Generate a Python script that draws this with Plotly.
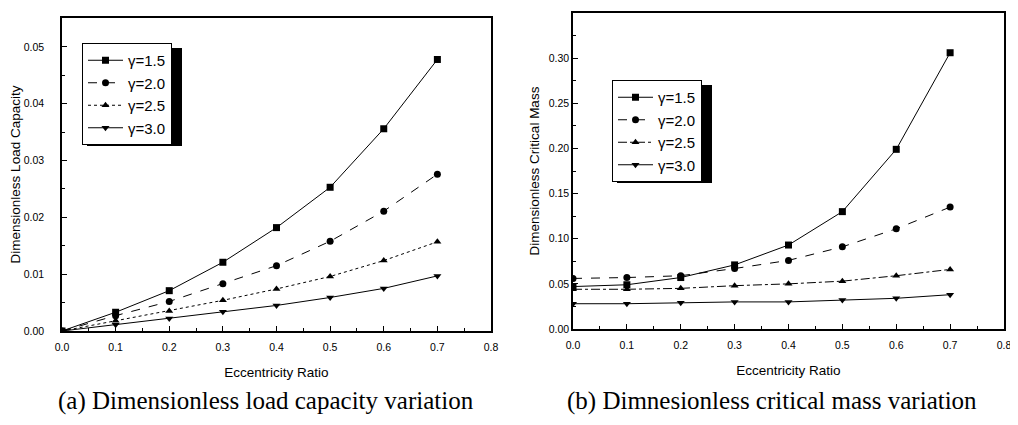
import plotly.graph_objects as go

ecc = [0.0, 0.1, 0.2, 0.3, 0.4, 0.5, 0.6, 0.7]
labels = ["γ=1.5", "γ=2.0", "γ=2.5", "γ=3.0"]

load_g15 = [0.0, 0.0033, 0.0071, 0.0121, 0.0182, 0.0253, 0.0356, 0.0478]
load_g20 = [0.0, 0.0027, 0.0052, 0.0083, 0.0115, 0.0158, 0.0211, 0.0276]
load_g25 = [0.0, 0.0018, 0.0035, 0.0054, 0.0074, 0.0096, 0.0124, 0.0157]
load_g30 = [0.0, 0.0011, 0.0022, 0.0034, 0.0045, 0.0059, 0.0075, 0.0097]

mass_g15 = [0.047, 0.049, 0.057, 0.071, 0.093, 0.130, 0.199, 0.306]
mass_g20 = [0.056, 0.057, 0.059, 0.067, 0.076, 0.091, 0.111, 0.135]
mass_g25 = [0.044, 0.044, 0.045, 0.048, 0.050, 0.053, 0.059, 0.066]
mass_g30 = [0.028, 0.028, 0.029, 0.030, 0.030, 0.032, 0.034, 0.038]

load_series = [load_g15, load_g20, load_g25, load_g30]
mass_series = [mass_g15, mass_g20, mass_g25, mass_g30]

symbols = ["square", "circle", "triangle-up", "triangle-down"]
dashes_a = ["solid", "dash", "dot", "solid"]
dashes_b = ["solid", "dash", "dashdot", "solid"]

# page body has an 8px margin; size the figure to fit the window
OFF = 8
W, H = 1018 - OFF, 425 - 2 * OFF


def px(sx):
    return (sx - OFF) / W


def py(sy):
    return 1 - (sy - OFF) / H


fig = go.Figure()

for i, (lab, vals) in enumerate(zip(labels, load_series)):
    fig.add_trace(go.Scatter(
        x=ecc, y=vals, name=lab, mode="lines+markers",
        line=dict(color="black", width=1, dash=dashes_a[i]),
        marker=dict(symbol=symbols[i], size=7, color="black"),
        xaxis="x", yaxis="y", legend="legend"))

for i, (lab, vals) in enumerate(zip(labels, mass_series)):
    fig.add_trace(go.Scatter(
        x=ecc, y=vals, name=lab, mode="lines+markers",
        line=dict(color="black", width=1, dash=dashes_b[i]),
        marker=dict(symbol=symbols[i], size=7, color="black"),
        xaxis="x2", yaxis="y2", legend="legend2"))

tickfont = dict(family="Liberation Sans, Arial", size=10.5, color="black")
titlefont = dict(family="Liberation Sans, Arial", size=13.5, color="black")
legfont = dict(family="Liberation Sans, Arial", size=15, color="black")

common_x = dict(range=[0, 0.8], dtick=0.1, tickformat=".1f", automargin=False,
                ticks="inside", ticklen=5, tickwidth=1, tickcolor="black",
                minor=dict(dtick=0.05, ticks="inside", ticklen=3, tickcolor="black"),
                showline=True, linecolor="black", linewidth=1.5, mirror=True,
                showgrid=False, zeroline=False, tickfont=tickfont,
                ticklabelstandoff=6, ticklabeloverflow="allow",
                title=dict(text="Eccentricity Ratio", font=titlefont, standoff=15))

legend_common = dict(xanchor="left", yanchor="top", bgcolor="white",
                     bordercolor="black", borderwidth=1, font=legfont,
                     tracegroupgap=0, itemwidth=35)

fig.update_layout(
    width=W, height=H,
    margin=dict(l=0, r=0, t=0, b=0, autoexpand=False),
    paper_bgcolor="white", plot_bgcolor="white",
    xaxis=dict(domain=[px(62), px(491)], anchor="y", **common_x),
    xaxis2=dict(domain=[px(573), px(1004)], anchor="y2", **common_x),
    yaxis=dict(domain=[py(331), py(18)], anchor="x", automargin=False,
               range=[0, 0.0551], dtick=0.01, tickformat=".2f",
               ticks="inside", ticklen=5, tickcolor="black",
               minor=dict(dtick=0.005, ticks="inside", ticklen=3, tickcolor="black"),
               showline=True, linecolor="black", linewidth=1.5, mirror=True,
               showgrid=False, zeroline=False, tickfont=tickfont,
               ticklabelstandoff=14,
               title=dict(text="Dimensionless Load Capacity", font=titlefont, standoff=4)),
    yaxis2=dict(domain=[py(329), py(13)], anchor="x2", automargin=False,
                range=[0, 0.35], dtick=0.05, tickformat=".2f",
                ticks="inside", ticklen=5, tickcolor="black",
                minor=dict(dtick=0.025, ticks="inside", ticklen=3, tickcolor="black"),
                showline=True, linecolor="black", linewidth=1.5, mirror=True,
                showgrid=False, zeroline=False, tickfont=tickfont,
                title=dict(text="Dimensionless Critical Mass", font=titlefont, standoff=6)),
    legend=dict(x=px(82), y=py(43), **legend_common),
    legend2=dict(x=px(612), y=py(80), **legend_common),
    showlegend=True,
)

# legend drop shadows
for (x0, y0, x1, y1) in [(87, 48, 182, 146), (617, 85, 712, 183)]:
    fig.add_shape(type="rect", xref="paper", yref="paper",
                  x0=px(x0), x1=px(x1), y0=py(y1), y1=py(y0),
                  fillcolor="black", line=dict(width=0), layer="below")

captionfont = dict(family="Liberation Serif, Times New Roman", size=25, color="black")
fig.add_annotation(text="(a) Dimensionless load capacity variation", x=px(266), y=py(401),
                   xref="paper", yref="paper", xanchor="center", yanchor="middle",
                   showarrow=False, font=captionfont)
fig.add_annotation(text="(b) Dimnesionless critical mass variation", x=px(772), y=py(401),
                   xref="paper", yref="paper", xanchor="center", yanchor="middle",
                   showarrow=False, font=captionfont)

fig.write_html("out.html")
